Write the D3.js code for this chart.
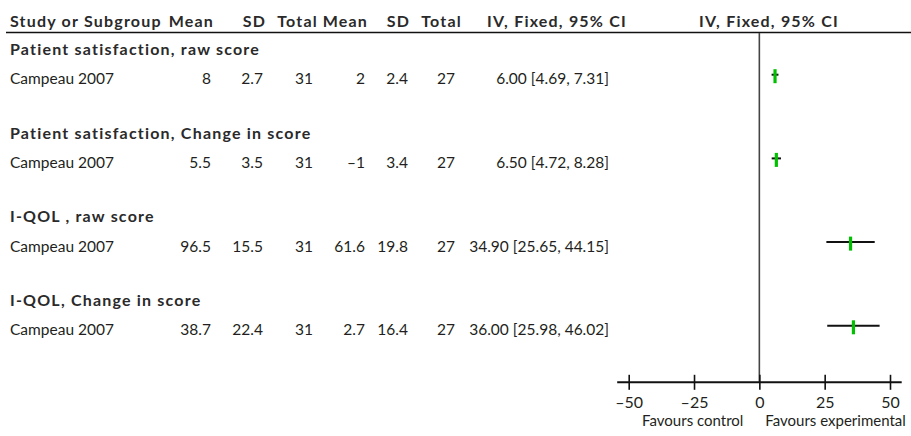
<!DOCTYPE html>
<html>
<head>
<meta charset="utf-8">
<script src="https://cdn.jsdelivr.net/npm/d3@7/dist/d3.min.js"></script>
<style>
  html, body { margin: 0; padding: 0; background: #fff; }
  svg { display: block; }
  text { font-family: "Lato", "Open Sans", sans-serif; fill: #231f20; }
  .hdr { font-weight: bold; font-size: 16px; letter-spacing: 1.2px; fill: #2a2a2a; }
  .grp { font-weight: bold; font-size: 16px; letter-spacing: 1.2px; fill: #2a2a2a; }
  .cell { font-size: 15.5px; }
  .tick-lbl { font-size: 16px; }
  .fav { font-size: 15px; }
</style>
</head>
<body>
<div id="chart"></div>
<script>
// Forest plot: mean differences, experimental vs control (IV, fixed effect)
const groups = [
  "Patient satisfaction, raw score",
  "Patient satisfaction, Change in score",
  "I-QOL , raw score",
  "I-QOL, Change in score"
];
const studies = ["Campeau 2007", "Campeau 2007", "Campeau 2007", "Campeau 2007"];
const expMean = [8, 5.5, 96.5, 38.7];
const expSD = [2.7, 3.5, 15.5, 22.4];
const expTotal = [31, 31, 31, 31];
const ctlMean = [2, -1, 61.6, 2.7];
const ctlSD = [2.4, 3.4, 19.8, 16.4];
const ctlTotal = [27, 27, 27, 27];
const meanDiff = [6.00, 6.50, 34.90, 36.00];
const ciLow = [4.69, 4.72, 25.65, 25.98];
const ciHigh = [7.31, 8.28, 44.15, 46.02];
const tickValues = [-50, -25, 0, 25, 50];
const headers = ["Study or Subgroup", "Mean", "SD", "Total", "Mean", "SD", "Total", "IV, Fixed, 95% CI", "IV, Fixed, 95% CI"];
const favourLabels = ["Favours control", "Favours experimental"];

const W = 911, H = 436;
const svg = d3.select("#chart").append("svg").attr("width", W).attr("height", H);

// plot scale for the mean difference
const x = d3.scaleLinear().domain([-50, 50]).range([628.7, 890]);

// row layout
const blockPitch = 83.7;
const groupBase = i => 55 + blockPitch * i;
const ciY = i => 74.7 + blockPitch * i;
const rowBase = i => ciY(i) + 9.5;

const minus = v => (v < 0 ? "\u2013" + Math.abs(v) : String(v));
const f2 = d3.format(".2f");

// header
const hdrPos = [
  { x: 10, a: "start" }, { x: 214, a: "end" }, { x: 266, a: "end" }, { x: 318, a: "end" },
  { x: 368, a: "end" }, { x: 410, a: "end" }, { x: 462, a: "end" },
  { x: 557, a: "middle" }, { x: 769, a: "middle" }
];
svg.append("g").selectAll("text").data(headers).join("text")
  .attr("class", "hdr")
  .attr("x", (d, i) => hdrPos[i].x)
  .attr("y", 26.5)
  .attr("text-anchor", (d, i) => hdrPos[i].a)
  .text(d => d);

svg.append("line")
  .attr("x1", 6).attr("x2", W).attr("y1", 32.5).attr("y2", 32.5)
  .attr("stroke", "#111").attr("stroke-width", 1.5);

// zero line
svg.append("line")
  .attr("x1", x(0)).attr("x2", x(0)).attr("y1", 33).attr("y2", 382)
  .attr("stroke", "#444").attr("stroke-width", 1.6);

// subgroup titles
svg.append("g").selectAll("text").data(groups).join("text")
  .attr("class", "grp")
  .attr("x", 10)
  .attr("y", (d, i) => groupBase(i))
  .text(d => d);

// study rows
const colRight = [211, 263, 313, 365, 408, 455, 609];
const rows = studies.map((s, i) => ({
  study: s,
  cells: [
    minus(expMean[i]), minus(expSD[i]), String(expTotal[i]),
    minus(ctlMean[i]), minus(ctlSD[i]), String(ctlTotal[i]),
    `${f2(meanDiff[i])} [${f2(ciLow[i])}, ${f2(ciHigh[i])}]`
  ],
  i
}));

const rowG = svg.append("g").selectAll("g").data(rows).join("g");
rowG.append("text")
  .attr("class", "cell")
  .attr("x", 10)
  .attr("y", d => rowBase(d.i))
  .text(d => d.study);
rowG.selectAll("text.num").data(d => d.cells.map((c, k) => ({ c, k, i: d.i }))).join("text")
  .attr("class", "cell num")
  .attr("x", d => colRight[d.k])
  .attr("y", d => rowBase(d.i))
  .attr("text-anchor", "end")
  .text(d => d.c);

// confidence intervals and point estimates
rowG.append("line")
  .attr("x1", d => x(ciLow[d.i])).attr("x2", d => x(ciHigh[d.i]))
  .attr("y1", d => ciY(d.i)).attr("y2", d => ciY(d.i))
  .attr("stroke", "#111").attr("stroke-width", 2);
rowG.append("rect")
  .attr("x", d => x(meanDiff[d.i]) - 1.6)
  .attr("y", d => ciY(d.i) - 5.5)
  .attr("width", 3.2)
  .attr("height", 14)
  .attr("fill", "#00c000");

// axis
const axisY = 382.3;
svg.append("line")
  .attr("x1", x(-50) - 11.5).attr("x2", x(50) + 11.7)
  .attr("y1", axisY).attr("y2", axisY)
  .attr("stroke", "#111").attr("stroke-width", 2);

const axis = d3.axisBottom(x)
  .tickValues(tickValues)
  .tickSizeInner(7.5)
  .tickSizeOuter(0)
  .tickPadding(7)
  .tickFormat(minus);

const ax = svg.append("g").attr("transform", `translate(0,${axisY})`).call(axis);
ax.select(".domain").remove();
ax.selectAll(".tick line").attr("y1", -7.5).attr("stroke", "#111").attr("stroke-width", 1.6);
ax.selectAll(".tick text")
  .attr("class", "tick-lbl")
  .attr("fill", "#231f20");
ax.attr("font-family", null).attr("font-size", null);

// direction labels either side of the line of no effect
svg.append("g").selectAll("text").data(favourLabels).join("text")
  .attr("class", "fav")
  .attr("x", (d, i) => (i === 0 ? x(0) - 16 : x(0) + 6))
  .attr("y", 425.7)
  .attr("text-anchor", (d, i) => (i === 0 ? "end" : "start"))
  .text(d => d);
</script>
</body>
</html>
